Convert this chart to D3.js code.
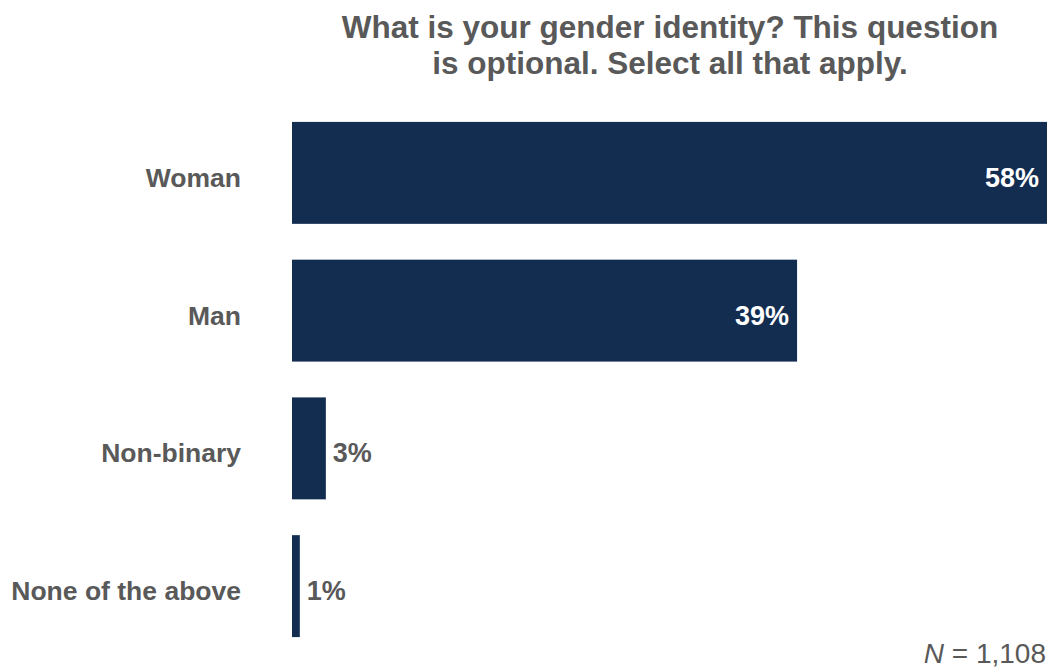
<!DOCTYPE html>
<html>
<head>
<meta charset="utf-8">
<script src="https://cdn.jsdelivr.net/npm/d3@7"></script>
<style>
  html, body { margin: 0; padding: 0; background: #ffffff; }
  svg { display: block; }
  text { font-family: "Liberation Sans", Arial, sans-serif; }
</style>
</head>
<body>
<svg id="chart" width="1051" height="668"></svg>
<script>
const titleLines = ["What is your gender identity? This question", "is optional. Select all that apply."];
const categories = ["Woman", "Man", "Non-binary", "None of the above"];
const values = [58, 38.8, 2.6, 0.6];
const noteN = "1,108";

const W = 1051, H = 668;
const left = 292, plotW = 755;
const svg = d3.select("#chart");
const gray = "#595959";
const navy = "#132d51";

const x = d3.scaleLinear().domain([0, d3.max(values)]).range([0, plotW]);
const y = d3.scaleBand().domain(categories).range([104, 655]).paddingInner(0.26).paddingOuter(0.13);

// title
const title = svg.append("text")
  .attr("x", 670).attr("text-anchor", "middle")
  .attr("font-size", 31.5).attr("font-weight", "bold").attr("fill", gray);
titleLines.forEach((t, i) => {
  title.append("tspan").attr("x", 670).attr("y", 38 + i * 36).text(t);
});

const g = svg.append("g").attr("transform", `translate(${left},0)`);

const data = categories.map((c, i) => ({ c, v: values[i] }));

g.selectAll("rect.bar").data(data).join("rect")
  .attr("class", "bar")
  .attr("x", x(0))
  .attr("y", d => y(d.c))
  .attr("width", d => x(d.v) - x(0))
  .attr("height", y.bandwidth())
  .attr("fill", navy);

// category labels
g.selectAll("text.cat").data(data).join("text")
  .attr("class", "cat")
  .attr("x", -51)
  .attr("y", d => y(d.c) + y.bandwidth() / 2 + 14)
  .attr("text-anchor", "end")
  .attr("font-size", 26.5).attr("font-weight", "bold").attr("fill", gray)
  .text(d => d.c);

// value labels
g.selectAll("text.val").data(data).join("text")
  .attr("class", "val")
  .each(function(d) {
    const w = x(d.v) - x(0);
    const inside = w > 100;
    d3.select(this)
      .attr("x", inside ? x(d.v) - 8 : x(d.v) + 7)
      .attr("text-anchor", inside ? "end" : "start")
      .attr("fill", inside ? "#ffffff" : gray);
  })
  .attr("y", d => y(d.c) + y.bandwidth() / 2 + 14)
  .attr("font-size", 27).attr("font-weight", "bold")
  .text(d => Math.round(d.v) + "%");

// N note
const note = svg.append("text")
  .attr("x", 1046).attr("y", 663).attr("text-anchor", "end")
  .attr("font-size", 28).attr("fill", gray);
note.append("tspan").attr("font-style", "italic").text("N");
note.append("tspan").text(" = " + noteN);
</script>
</body>
</html>
